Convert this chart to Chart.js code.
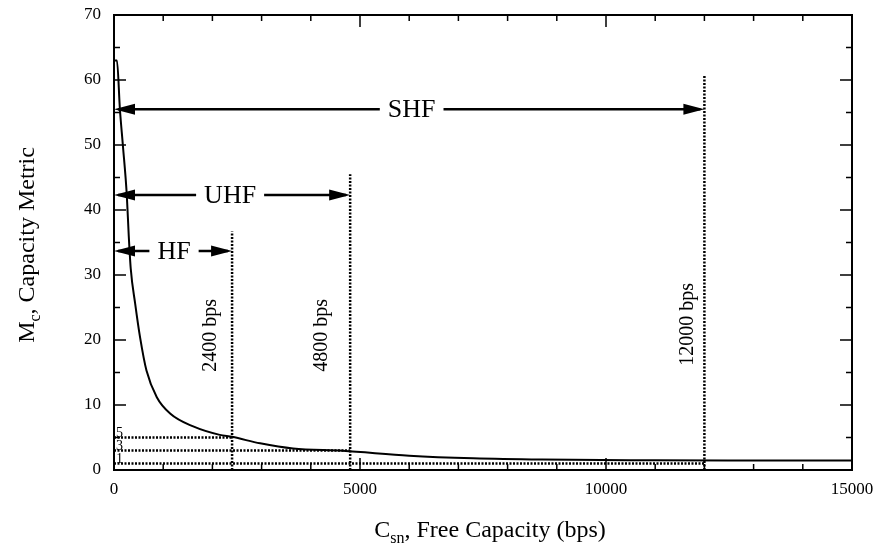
<!DOCTYPE html>
<html>
<head>
<meta charset="utf-8">
<script src="https://cdn.jsdelivr.net/npm/chart.js@4.4.1/dist/chart.umd.min.js"></script>
<style>
html, body { margin: 0; background: #fff; }
#wrap { width: 878px; height: 544px; }
</style>
</head>
<body>
<div id="wrap"><canvas id="c"></canvas></div>
<script>
// capacity metric curve
const capX = [0, 60, 120, 180, 260, 300, 340, 430, 530, 660, 870, 1140, 1610, 2150, 2400, 2970, 3640, 4650, 6000, 7300, 8700, 11000, 13000, 15000];
const capY = [63, 63, 55.5, 50, 42.3, 36, 31, 25.6, 20.4, 15.3, 11.2, 8.7, 6.7, 5.4, 5.1, 4.1, 3.3, 2.95, 2.2, 1.8, 1.6, 1.5, 1.47, 1.45];

// data-rate markers (vertical dotted lines)
const rateLimits = [2400, 4800, 12000];
const rateTops = [36.7, 45.5, 60.6];
const rateLabels = ['2400 bps', '4800 bps', '12000 bps'];
const rateLabelX = [1960, 4230, 11670];
const rateLabelY = [20.7, 20.7, 22.4];

// band arrows
const bandNames = ['HF', 'UHF', 'SHF'];
const bandLevels = [33.7, 42.3, 55.5];
const bandTextX = [1220, 2360, 6050];

// metric levels (horizontal dotted lines)
const metricLevels = [5, 3, 1];
const metricEnds = [2400, 4800, 12000];

const serif = '"Liberation Serif", "DejaVu Serif", serif';

let datasets = [{
    data: capX.map((x, i) => ({ x: x, y: capY[i] })),
    borderColor: '#000',
    borderWidth: 2,
    pointRadius: 0,
    cubicInterpolationMode: 'monotone'
}];
rateLimits.forEach((r, i) => {
    datasets.push({
        data: [{ x: r, y: 0 }, { x: r, y: rateTops[i] }],
        borderColor: '#000',
        borderWidth: 2.5,
        borderDash: [2, 1.5],
        pointRadius: 0
    });
});
metricLevels.forEach((m, i) => {
    datasets.push({
        data: [{ x: 0, y: m }, { x: metricEnds[i], y: m }],
        borderColor: '#000',
        borderWidth: 2.5,
        borderDash: [2, 1.5],
        pointRadius: 0
    });
});

let decorations = {
    id: 'decorations',
    afterDatasetsDraw(chart) {
        let ctx = chart.ctx;
        let xs = chart.scales.x, ys = chart.scales.y;
        let a = chart.chartArea;
        ctx.save();
        ctx.fillStyle = '#000';
        ctx.strokeStyle = '#000';

        // frame
        ctx.lineWidth = 2;
        ctx.strokeRect(a.left, a.top, a.right - a.left, a.bottom - a.top);

        // inward ticks
        ctx.lineWidth = 1.5;
        ctx.beginPath();
        for (let v = 0; v <= 70; v += 5) {
            let len = v % 10 === 0 ? 12 : 6;
            let py = ys.getPixelForValue(v);
            ctx.moveTo(a.left, py); ctx.lineTo(a.left + len, py);
            ctx.moveTo(a.right, py); ctx.lineTo(a.right - len, py);
        }
        for (let v = 0; v <= 15000; v += 1000) {
            let len = v % 5000 === 0 ? 12 : 6;
            let px = xs.getPixelForValue(v);
            ctx.moveTo(px, a.bottom); ctx.lineTo(px, a.bottom - len);
            ctx.moveTo(px, a.top); ctx.lineTo(px, a.top + len);
        }
        ctx.stroke();

        // rate labels, rotated
        ctx.font = '20px ' + serif;
        ctx.textAlign = 'center';
        ctx.textBaseline = 'middle';
        rateLabels.forEach((t, i) => {
            ctx.save();
            ctx.translate(xs.getPixelForValue(rateLabelX[i]), ys.getPixelForValue(rateLabelY[i]));
            ctx.rotate(-Math.PI / 2);
            ctx.fillText(t, 0, 0);
            ctx.restore();
        });

        // band arrows
        ctx.font = '26px ' + serif;
        ctx.lineWidth = 2.5;
        bandNames.forEach((name, i) => {
            let py = ys.getPixelForValue(bandLevels[i]);
            let x0 = xs.getPixelForValue(0);
            let x1 = xs.getPixelForValue(rateLimits[i]);
            let tx = xs.getPixelForValue(bandTextX[i]);
            let gap = ctx.measureText(name).width / 2 + 8;
            ctx.beginPath();
            ctx.moveTo(x0 + 4, py); ctx.lineTo(tx - gap, py);
            ctx.moveTo(tx + gap, py); ctx.lineTo(x1 - 4, py);
            ctx.stroke();
            ctx.beginPath();
            ctx.moveTo(x0, py); ctx.lineTo(x0 + 21, py - 5.5); ctx.lineTo(x0 + 21, py + 5.5); ctx.closePath();
            ctx.moveTo(x1, py); ctx.lineTo(x1 - 21, py - 5.5); ctx.lineTo(x1 - 21, py + 5.5); ctx.closePath();
            ctx.fill();
            ctx.fillText(name, tx, py + 1);
        });

        // metric level labels
        ctx.font = '14px ' + serif;
        ctx.textAlign = 'left';
        ctx.textBaseline = 'alphabetic';
        metricLevels.forEach(m => {
            ctx.fillText(String(m), xs.getPixelForValue(0) + 2, ys.getPixelForValue(m) - 1);
        });

        // axis titles with subscripts
        let measure = parts => parts.reduce((s, p) => {
            ctx.font = p.size + 'px ' + serif;
            return s + ctx.measureText(p.text).width;
        }, 0);
        let drawTitle = parts => {
            let pos = -measure(parts) / 2;
            parts.forEach(p => {
                ctx.font = p.size + 'px ' + serif;
                ctx.fillText(p.text, pos, p.sub ? 6 : 0);
                pos += ctx.measureText(p.text).width;
            });
        };

        let yTitle = [{ text: 'M', size: 24 }, { text: 'c', size: 16, sub: true }, { text: ', Capacity Metric', size: 24 }];
        ctx.save();
        ctx.translate(34, 245);
        ctx.rotate(-Math.PI / 2);
        drawTitle(yTitle);
        ctx.restore();

        let xTitle = [{ text: 'C', size: 24 }, { text: 'sn', size: 16, sub: true }, { text: ', Free Capacity (bps)', size: 24 }];
        ctx.save();
        ctx.translate(490, 537);
        drawTitle(xTitle);
        ctx.restore();

        ctx.restore();
    }
};

let fixPadding = s => {
    s.paddingTop = 0; s.paddingBottom = 0;
    s.paddingLeft = 0; s.paddingRight = 0;
};

new Chart(document.getElementById('c'), {
    type: 'line',
    data: { datasets: datasets },
    options: {
        responsive: true,
        maintainAspectRatio: false,
        animation: false,
        layout: { padding: { top: 15, right: 26, left: 0, bottom: 0 } },
        plugins: { legend: { display: false }, tooltip: { enabled: false } },
        scales: {
            x: {
                type: 'linear',
                min: 0,
                max: 15000,
                afterFit: s => { s.height = 74; fixPadding(s); },
                grid: { display: false, drawTicks: false },
                border: { display: false },
                ticks: {
                    stepSize: 5000,
                    padding: 9,
                    color: '#000',
                    maxRotation: 0,
                    font: { family: serif, size: 17 },
                    callback: v => String(v)
                }
            },
            y: {
                type: 'linear',
                min: 0,
                max: 70,
                afterFit: s => { s.width = 114; fixPadding(s); },
                grid: { display: false, drawTicks: false },
                border: { display: false },
                ticks: {
                    stepSize: 10,
                    padding: 13,
                    color: '#000',
                    font: { family: serif, size: 17 }
                }
            }
        }
    },
    plugins: [decorations]
});
</script>
</body>
</html>
